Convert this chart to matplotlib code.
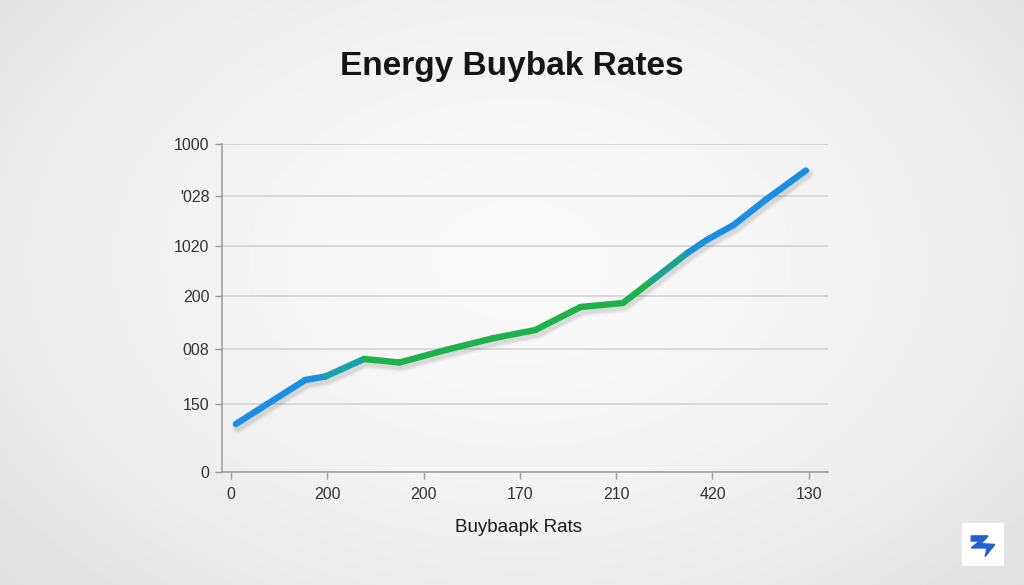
import numpy as np
import matplotlib.pyplot as plt
from matplotlib.collections import LineCollection
from matplotlib.patches import Polygon, Rectangle

plt.rcParams['font.family'] = ['Liberation Sans', 'DejaVu Sans']

# data (positional units)
x_vals = [0.05, 0.77, 0.98, 1.38, 1.75, 2.23, 2.71, 3.16, 3.63, 4.07,
          4.38, 4.74, 4.94, 5.22, 5.55, 5.97]
y_vals = [0.96, 1.84, 1.91, 2.26, 2.19, 2.44, 2.67, 2.84, 3.30, 3.38,
          3.84, 4.38, 4.64, 4.94, 5.44, 6.03]
seg_colors = ['#1a8fe2', '#1a8fe2', '#1aa0a8', '#1db34a', '#1db34a', '#1db34a',
              '#1db34a', '#1db34a', '#1db34a', '#1db34a', '#1aa38f', '#1a92d8',
              '#1a8fe2', '#1a8fe2', '#1a8fe2']

x_ticks = [0, 1, 2, 3, 4, 5, 6]
x_labels = ['0', '200', '200', '170', '210', '420', '130']
y_ticks = [0, 1.36, 2.46, 3.52, 4.52, 5.52, 6.56]
y_labels = ['0', '150', '008', '200', '1020', "'028", '1000']

title = 'Energy Buybak Rates'
xlabel = 'Buybaapk Rats'

fig = plt.figure(figsize=(10.24, 5.85), dpi=100)

# soft radial background
bg = fig.add_axes([0, 0, 1, 1])
yy, xx = np.mgrid[0:585, 0:1024]
r = np.sqrt(((xx - 520) / 640.0) ** 2 + ((yy - 260) / 440.0) ** 2)
shade = np.clip(0.975 - 0.085 * r ** 1.8, 0.87, 1.0)
bg.imshow(shade, cmap='gray', vmin=0, vmax=1, aspect='auto', extent=[0, 1, 0, 1],
          interpolation='bilinear')
bg.set_axis_off()

ax = fig.add_axes([0.2168, 0.1932, 0.5918, 0.5607])
ax.set_facecolor('none')

# soft shadow under the line
for lw, a in [(9, 0.03), (7, 0.04), (5.5, 0.05)]:
    ax.plot(np.array(x_vals) + 0.02, np.array(y_vals) - 0.07, color='black',
            lw=lw, alpha=a, solid_capstyle='round', solid_joinstyle='round', zorder=2)

pts = np.column_stack([x_vals, y_vals])
segs = np.stack([pts[:-1], pts[1:]], axis=1)
lc = LineCollection(segs, colors=seg_colors, linewidths=4.6, capstyle='round',
                    joinstyle='round', zorder=3)
ax.add_collection(lc)

ax.set_xlim(-0.094, 6.2)
ax.set_ylim(0, 6.56)
ax.set_xticks(x_ticks)
ax.set_xticklabels(x_labels)
ax.set_yticks(y_ticks)
ax.set_yticklabels(y_labels)
ax.grid(axis='y', color='#d0d0d0', linewidth=1.1)
ax.set_axisbelow(True)

for s in ['top', 'right']:
    ax.spines[s].set_visible(False)
for s in ['left', 'bottom']:
    ax.spines[s].set_color('#9a9a9a')
    ax.spines[s].set_linewidth(1.1)
ax.tick_params(colors='#9a9a9a', length=5, width=1.0, labelsize=11.5,
               labelcolor='#333333', pad=6)
ax.tick_params(axis='y', pad=4)

fig.text(0.5, 0.887, title, ha='center', va='center', fontsize=24,
         fontweight='bold', color='#151515')
fig.text(0.506, 0.099, xlabel, ha='center', va='center', fontsize=13.5,
         color='#1a1a1a')

# small logo in the corner
lg = fig.add_axes([962 / 1024, 19 / 585, 42 / 1024, 43 / 585])
lg.set_xlim(0, 1)
lg.set_ylim(0, 1)
lg.add_patch(Rectangle((0, 0), 1, 1, color='white'))
lg.add_patch(Polygon([(0.22, 0.70), (0.62, 0.70), (0.45, 0.52), (0.78, 0.50),
                      (0.55, 0.22), (0.60, 0.42), (0.22, 0.42), (0.42, 0.58),
                      (0.22, 0.58)], closed=True, color='#1f5fd0'))
lg.set_axis_off()

fig.savefig('out.png', dpi=100)
